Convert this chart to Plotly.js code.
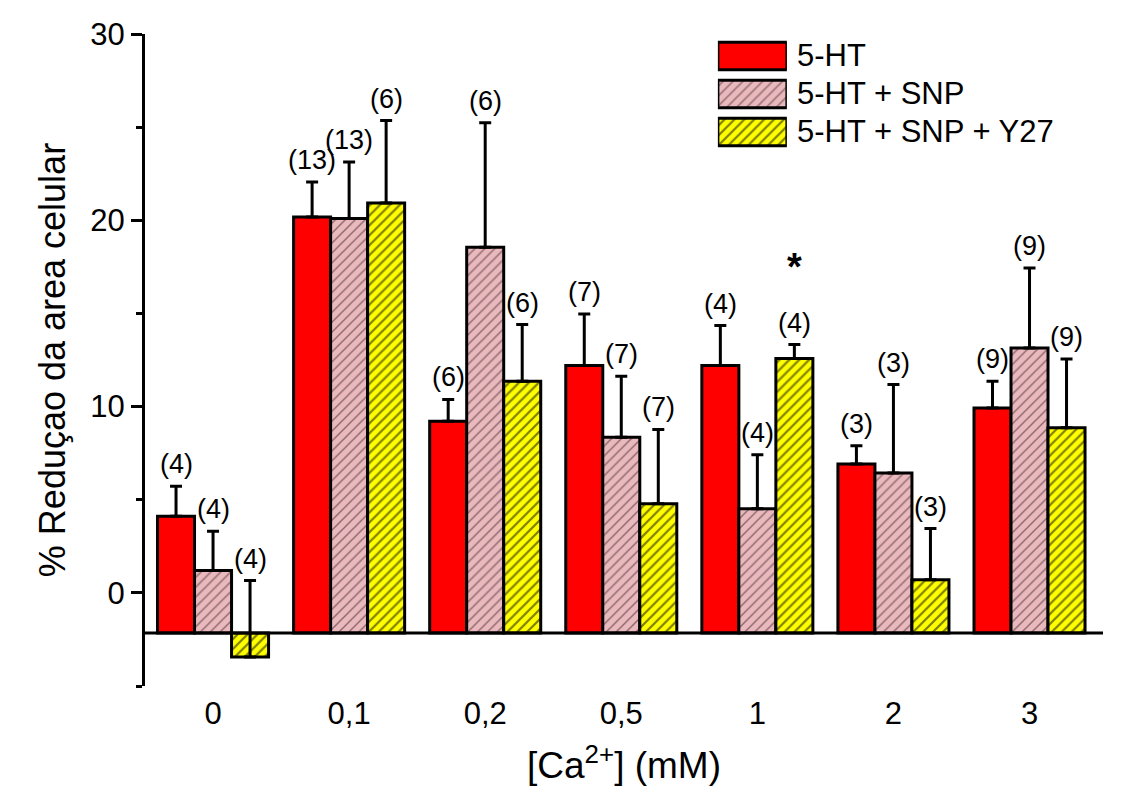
<!DOCTYPE html>
<html>
<head>
<meta charset="utf-8">
<script src="https://cdn.plot.ly/plotly-3.0.1.min.js"></script>
<style>html,body{margin:0;padding:0;background:#fff;}#chart{width:1134px;height:789px;}</style>
</head>
<body>
<div id="chart"></div>
<script>
// ---- data ----
var categories = ["0", "0,1", "0,2", "0,5", "1", "2", "3"];
var seriesNames = ["5-HT", "5-HT + SNP", "5-HT + SNP + Y27"];
var ht      = [4.11, 20.18, 9.21, 12.2, 12.2, 6.92, 9.93];
var htSem   = [1.61, 1.88, 1.17, 2.77, 2.15, 0.98, 1.43];
var htN     = [4, 13, 6, 7, 4, 3, 9];
var snp     = [1.2, 20.09, 18.55, 8.35, 4.52, 6.44, 13.15];
var snpSem  = [2.11, 3.04, 6.68, 3.28, 2.89, 4.74, 4.29];
var snpN    = [4, 13, 6, 7, 4, 3, 9];
var y27     = [-3.44, 20.93, 11.36, 4.79, 12.58, 0.71, 8.86];
var y27Sem  = [4.10, 4.42, 3.04, 3.98, 0.75, 2.74, 3.70];
var y27N    = [4, 6, 6, 7, 4, 3, 9];
var significant = [{series: 2, category: 4, mark: "*"}];
var baseline = -2.15;   // value where the x-axis line crosses

// ---- style ----
var FONT = "Arial, 'Liberation Sans', sans-serif";
var bargap = 0.184;
var styles = [
  {color: "#ff0000", pattern: null},
  {color: "#e9b9be", pattern: {shape: "/", fgcolor: "#3a1e24", size: 7, solidity: 0.22, fillmode: "overlay"}},
  {color: "#ffff00", pattern: {shape: "/", fgcolor: "#000000", size: 7, solidity: 0.32, fillmode: "overlay"}}
];
var values = [ht, snp, y27], sems = [htSem, snpSem, y27Sem], ns = [htN, snpN, y27N];
var xIdx = categories.map(function(_, i){ return i; });

var traces = [];
var annotations = [];
var barW = (1 - bargap) / 3;

values.forEach(function(vals, s){
  var marker = {color: styles[s].color, line: {color: "#000", width: 3}};
  if (styles[s].pattern) marker.pattern = styles[s].pattern;
  traces.push({
    type: "bar", name: seriesNames[s], x: xIdx,
    y: vals.map(function(v){ return v - baseline; }),
    base: baseline,
    marker: marker,
    error_y: {type: "data", symmetric: false, array: sems[s],
              arrayminus: sems[s].map(function(){ return 0; }),
              color: "#000", thickness: 3, width: 6},
    showlegend: false, hoverinfo: "skip"
  });
  vals.forEach(function(v, i){
    annotations.push({
      x: i + (s - 1) * barW, y: v + sems[s][i], xref: "x", yref: "y",
      text: "(" + ns[s][i] + ")", showarrow: false, yanchor: "middle", yshift: 22,
      font: {family: FONT, size: 27, color: "#000"}
    });
  });
  // legend key (drawn as bars on a small extra subplot)
  var lm = {color: styles[s].color, line: {color: "#000", width: 3}};
  if (styles[s].pattern) lm.pattern = styles[s].pattern;
  traces.push({
    type: "bar", orientation: "h", x: [1], y: [s], base: 0,
    width: 0.72, offset: -0.36, marker: lm,
    xaxis: "x2", yaxis: "y2", showlegend: false, hoverinfo: "skip"
  });
  annotations.push({
    x: 1, y: s, xref: "x2", yref: "y2", text: seriesNames[s], showarrow: false,
    xanchor: "left", yanchor: "middle", xshift: 8,
    font: {family: FONT, size: 31, color: "#000"}
  });
});

significant.forEach(function(sg){
  annotations.push({
    x: sg.category + (sg.series - 1) * barW,
    y: values[sg.series][sg.category] + sems[sg.series][sg.category],
    xref: "x", yref: "y", text: "<b>" + sg.mark + "</b>", showarrow: false,
    yanchor: "middle", yshift: 78, font: {family: FONT, size: 38, color: "#000"}
  });
});

var layout = {
  width: 1134, height: 789,
  margin: {l: 145, r: 31, t: 34, b: 103},
  paper_bgcolor: "#ffffff", plot_bgcolor: "#ffffff",
  font: {family: FONT, color: "#000"},
  barmode: "group", bargap: bargap, bargroupgap: 0,
  showlegend: false,
  xaxis: {
    range: [-0.5, 6.54], tickvals: xIdx, ticktext: categories,
    showgrid: false, zeroline: false, showline: false,
    ticks: "", ticklabelstandoff: 6,
    tickfont: {family: FONT, size: 31, color: "#000"},
    title: {text: "[Ca<sup>2+</sup>] (mM)", font: {family: FONT, size: 37, color: "#000"}, standoff: 22},
    fixedrange: true
  },
  yaxis: {
    range: [-5, 30], tickvals: [0, 10, 20, 30],
    showgrid: false, zeroline: false, showline: true, linecolor: "#000", linewidth: 3,
    ticks: "outside", ticklen: 11, tickwidth: 3, tickcolor: "#000",
    minor: {tickvals: [-5, 5, 15, 25], ticks: "outside", ticklen: 6, tickwidth: 3, tickcolor: "#000"},
    tickfont: {family: FONT, size: 31, color: "#000"},
    title: {text: "% Reduçao da area celular", font: {family: FONT, size: 36, color: "#000"}, standoff: 14},
    fixedrange: true
  },
  xaxis2: {domain: [0.598, 0.670], range: [0, 1], visible: false, fixedrange: true, anchor: "y2"},
  yaxis2: {domain: [0.8206, 0.9954], range: [2.5, -0.5], visible: false, fixedrange: true, anchor: "x2"},
  shapes: [{
    type: "line", xref: "paper", yref: "y", x0: 0, x1: 1, y0: baseline, y1: baseline,
    line: {color: "#000", width: 3}, layer: "above"
  }],
  annotations: annotations
};

Plotly.newPlot("chart", traces, layout, {displayModeBar: false, staticPlot: true});
</script>
</body>
</html>
